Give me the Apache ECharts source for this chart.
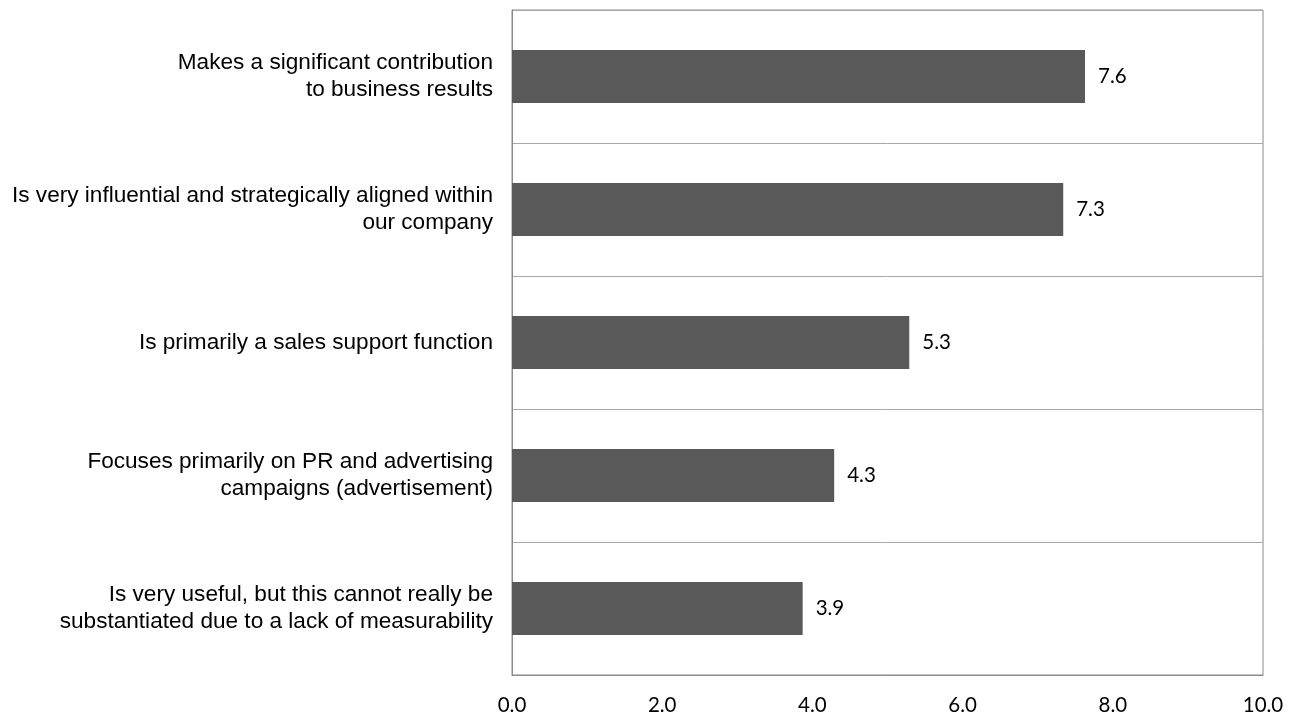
<!DOCTYPE html>
<html>
<head>
<meta charset="utf-8">
<script src="https://cdn.jsdelivr.net/npm/echarts@6/dist/echarts.min.js"></script>
<style>
  html, body { margin: 0; padding: 0; background: #fff; }
  #chart { width: 1298px; height: 718px; }
</style>
</head>
<body>
<div id="chart"></div>
<script>
// statements, top to bottom
const categories = [
    "Makes a significant contribution\nto business results",
    "Is very influential and strategically aligned within\nour company",
    "Is primarily a sales support function",
    "Focuses primarily on PR and advertising\ncampaigns (advertisement)",
    "Is very useful, but this cannot really be\nsubstantiated due to a lack of measurability",
];
// bar lengths; labels show one decimal
const scores = [7.63, 7.34, 5.29, 4.29, 3.87];
const xTicks = [0, 2, 4, 6, 8, 10];

const chart = echarts.init(document.getElementById("chart"));

chart.setOption({
    animation: false,
    backgroundColor: "#ffffff",
    grid: {
        left: 512,
        right: 35,
        top: 10,
        bottom: 43,
        show: true,
        borderColor: "#8a8a8a",
        borderWidth: 1,
    },
    xAxis: {
        type: "value",
        min: xTicks[0],
        max: xTicks[xTicks.length - 1],
        interval: 2,
        axisLine: { show: true, lineStyle: { color: "#8a8a8a" } },
        axisTick: { show: false },
        splitLine: { show: false },
        axisLabel: {
            margin: 20,
            color: "#000",
            fontFamily: "Lato",
            fontSize: 20.5,
            formatter: (v) => v.toFixed(1),
        },
    },
    yAxis: {
        type: "category",
        inverse: true,
        data: categories,
        axisLine: { show: true, lineStyle: { color: "#8a8a8a" } },
        axisTick: { show: false },
        splitLine: { show: true, lineStyle: { color: "#a8a8a8", width: 1 } },
        axisLabel: {
            margin: 19,
            color: "#000",
            fontFamily: "Liberation Sans",
            fontSize: 22.6,
            lineHeight: 27,
            align: "right",
        },
    },
    series: [{
        type: "bar",
        data: scores,
        barWidth: "40%",
        itemStyle: { color: "#595959" },
        label: {
            show: true,
            position: "right",
            distance: 13,
            color: "#000",
            fontFamily: "Lato",
            fontSize: 20.5,
            formatter: (p) => p.value.toFixed(1),
        },
    }],
});
</script>
</body>
</html>
